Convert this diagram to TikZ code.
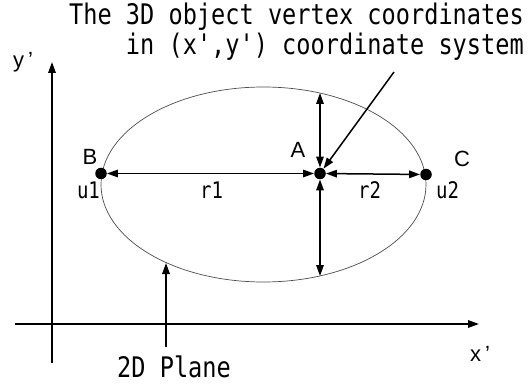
\documentclass[tikz,border=0pt]{standalone}
\usepackage{fontspec}
\setmainfont{Liberation Sans}
\newfontfamily\gothic[Ligatures=TeXOff]{DejaVu Sans Mono}
\usetikzlibrary{arrows.meta}
\newcommand{\talltext}[1]{\scalebox{1}[1.2]{#1}}
\tikzset{
  tip/.style={-{Triangle[length=11pt,width=7.5pt]}},
  dbl/.style={{Triangle[length=11pt,width=7.5pt]}-{Triangle[length=11pt,width=7.5pt]}},
  thick line/.style={line width=1.5pt},
  dot/.style={circle,fill=black,inner sep=0pt,minimum size=11.5pt},
  biglabel/.style={font=\gothic\fontsize{23.6}{26}\selectfont,inner sep=0pt},
  smalllabel/.style={font=\gothic\fontsize{19}{21}\selectfont,inner sep=0pt},
  letterlabel/.style={font=\fontsize{22}{24}\selectfont,inner sep=0pt},
}
\begin{document}
\begin{tikzpicture}[x=1pt,y=-1pt]
\useasboundingbox (0,0) rectangle (528,385);
% ellipse
\draw[line width=0.7pt,black!70] (263.5,184.5) ellipse [x radius=162.5, y radius=97.5];
% axes
\coordinate (xs) at (15,324);
\coordinate (xe) at (479,324);
\coordinate (ys) at (52,363);
\coordinate (ye) at (52,62);
\draw[thick line,tip] (xs) -- (xe);
\draw[thick line,tip] (ys) -- (ye);
\node[letterlabel,anchor=base west] (ylab) at (13,68) {y\hspace{4pt}’};
\node[letterlabel,anchor=base west] (xlab) at (470,361) {x\hspace{4pt}’};
% points
\node[dot] (A) at (320,173.5) {};
\node[dot] (B) at (101,173.5) {};
\node[dot] (C) at (426,174.5) {};
\coordinate (top) at (320,93);
\coordinate (bot) at (320,276);
\draw[thick line,dbl] (B) -- (A);
\draw[thick line,dbl] (A) -- (C);
\draw[thick line,dbl] (A) -- (top);
\draw[thick line,dbl] (A) -- (bot);
% labels
\node[letterlabel] (Alab) at (298,150) {A};
\node[letterlabel] (Blab) at (90,156.5) {B};
\node[letterlabel] (Clab) at (462,159) {C};
\node[smalllabel,anchor=base] (u1) at (88.5,198.5) {\talltext{u1}};
\node[smalllabel,anchor=base] (u2) at (447.5,198.5) {\talltext{u2}};
\node[smalllabel,anchor=base] (r1) at (211.5,198.5) {\talltext{r1}};
\node[smalllabel,anchor=base] (r2) at (369.5,198.5) {\talltext{r2}};
% title and pointer
\node[biglabel,anchor=base east] (t1) at (524,25) {\talltext{The 3D object vertex coordinates}};
\node[biglabel,anchor=base east] (t2) at (524,55) {\talltext{in (x',y') coordinate system}};
\coordinate (ptr) at (394,72);
\draw[thick line,tip] (ptr) -- (A);
% 2D plane
\node[biglabel,anchor=base west] (plane) at (117,377) {\talltext{2D Plane}};
\coordinate (pl) at (166,263);
\draw[thick line,tip] (166,347) -- (pl);
\end{tikzpicture}
\end{document}
